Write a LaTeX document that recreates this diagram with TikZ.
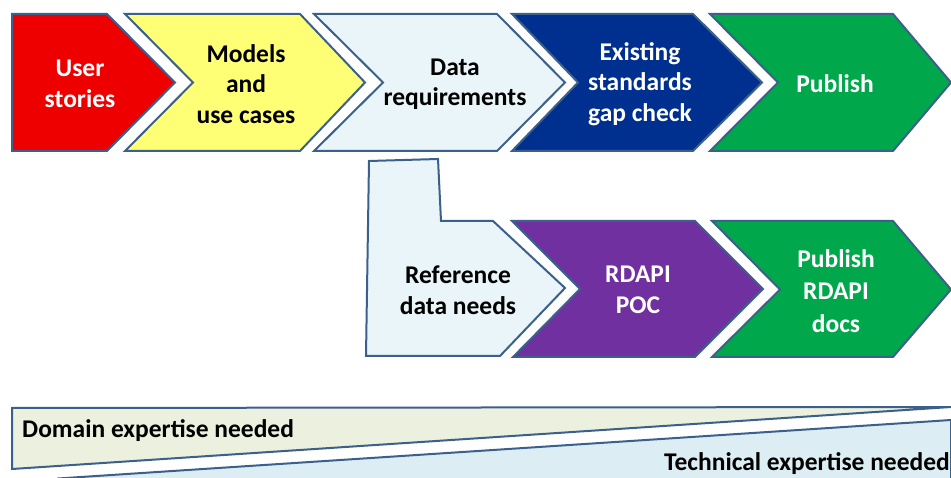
\documentclass[tikz,border=0pt]{standalone}
\usepackage{fontspec}
\setmainfont{Carlito}
\definecolor{edge}{RGB}{60,96,140}
\definecolor{cred}{RGB}{238,0,0}
\definecolor{cyel}{RGB}{255,255,117}
\definecolor{clb}{RGB}{233,245,248}
\definecolor{cdb}{RGB}{0,48,143}
\definecolor{cgr}{RGB}{0,168,75}
\definecolor{cpu}{RGB}{112,48,160}
\definecolor{cdom}{RGB}{235,241,222}
\definecolor{ctec}{RGB}{220,238,243}
\begin{document}
\begin{tikzpicture}[x=1pt,y=-1pt,
  shp/.style={draw=edge,line width=2pt,line join=miter},
  txt/.style={font=\fontsize{25.5}{30.5}\selectfont\bfseries,align=center,inner sep=0pt},
  lbl/.style={font=\fontsize{25.5}{30}\selectfont\bfseries,inner sep=0pt,anchor=base west}]
\useasboundingbox (0,0) rectangle (951,478);
\fill[white] (0,0) rectangle (951,478);
% top row
\draw[shp,fill=cred] (12,14) -- (107,14) -- (175,82.5) -- (107,151) -- (12,151) -- cycle;
\draw[shp,fill=cyel] (125,14) -- (300,14) -- (365,82.5) -- (300,151) -- (125,151) -- (193,82.5) -- cycle;
\draw[shp,fill=clb] (314,14) -- (497,14) -- (565,82.5) -- (497,151) -- (314,151) -- (383,82.5) -- cycle;
\draw[shp,fill=cdb] (512,14) -- (693,14) -- (762,82.5) -- (693,151) -- (512,151) -- (578,82.5) -- cycle;
\draw[shp,fill=cgr] (710,14) -- (893,14) -- (951,82.5) -- (893,151) -- (710,151) -- (778,82.5) -- cycle;
% bottom row
\draw[shp,fill=clb] (369,161) -- (438,159) -- (441,221) -- (493,221) -- (565,288) -- (500,356) -- (366,356) -- cycle;
\draw[shp,fill=cpu] (512,221) -- (695,221) -- (763,289) -- (695,357) -- (513,357) -- (580,289) -- cycle;
\draw[shp,fill=cgr] (712,221) -- (893,221) -- (951,289.5) -- (893,357) -- (712,357) -- (780,289.5) -- cycle;
% expertise wedges
\draw[shp,fill=cdom] (12,408) -- (951,407) -- (12,469) -- cycle;
\draw[shp,fill=ctec] (58,478.5) -- (951,420) -- (951,490) -- (40,490) -- cycle;
% texts
\node[txt,text=white] (us) at (80,84) {User\\stories};
\node[txt] (mu) at (246,84) {Models\\and\\use cases};
\node[txt] (dr) at (455,84) {Data\\requirements};
\node[txt,text=white] (es) at (640,84) {Existing\\standards\\gap check};
\node[txt,text=white] (pu) at (835,84) {Publish};
\node[txt] (rd) at (458,290) {Reference\\data needs};
\node[txt,text=white] (rp) at (638,290) {RDAPI\\POC};
\node[txt,text=white,font=\fontsize{25.5}{32.5}\selectfont\bfseries] (pr) at (836,291) {Publish\\RDAPI\\docs};
\node[lbl] (dom) at (22,437) {Domain expertise needed};
\node[lbl] (tec) at (664,470) {Technical expertise needed};
\end{tikzpicture}
\end{document}
